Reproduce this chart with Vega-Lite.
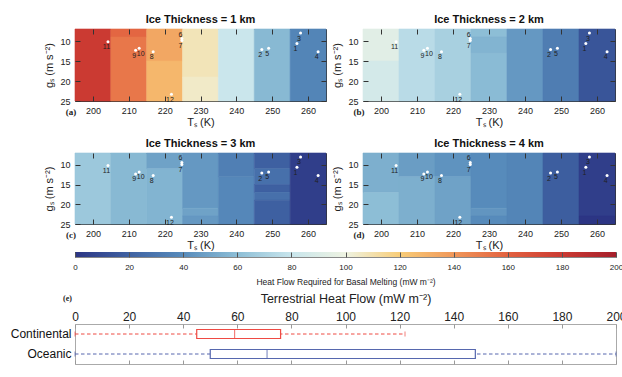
{
  "$schema": "https://vega.github.io/schema/vega-lite/v6.json",
  "padding": {"left": 9, "top": 13, "right": 0, "bottom": 0},
  "config": {
    "font": "Liberation Sans",
    "view": {"stroke": "#333", "strokeWidth": 1},
    "axis": {"grid": false, "domain": false, "labelFont": "Liberation Sans", "titleFont": "Liberation Sans", "labelColor": "#222", "titleColor": "#222", "titleFontWeight": "normal", "tickColor": "#333", "tickWidth": 1, "labelFontSize": 9, "titleFontSize": 11, "labelFlush": false, "labelOverlap": false},
    "title": {"font": "Liberation Sans", "fontSize": 11, "fontWeight": "bold", "color": "#111", "offset": 4},
    "text": {"font": "Liberation Sans"}
  },
  "datasets": {
    "cells": [
      {"p": 1, "T0": 195, "T1": 205, "g0": 7, "g1": 25, "v": 180},
      {"p": 1, "T0": 205, "T1": 215, "g0": 7, "g1": 9, "v": 158},
      {"p": 1, "T0": 205, "T1": 215, "g0": 9, "g1": 25, "v": 152},
      {"p": 1, "T0": 215, "T1": 225, "g0": 7, "g1": 15, "v": 134},
      {"p": 1, "T0": 215, "T1": 225, "g0": 15, "g1": 25, "v": 128},
      {"p": 1, "T0": 225, "T1": 235, "g0": 7, "g1": 19, "v": 108},
      {"p": 1, "T0": 225, "T1": 235, "g0": 19, "g1": 25, "v": 105},
      {"p": 1, "T0": 235, "T1": 245, "g0": 7, "g1": 25, "v": 81},
      {"p": 1, "T0": 245, "T1": 255, "g0": 7, "g1": 25, "v": 58},
      {"p": 1, "T0": 255, "T1": 265, "g0": 7, "g1": 25, "v": 37},
      {"p": 2, "T0": 195, "T1": 205, "g0": 7, "g1": 15, "v": 93},
      {"p": 2, "T0": 195, "T1": 205, "g0": 15, "g1": 25, "v": 86},
      {"p": 2, "T0": 205, "T1": 215, "g0": 7, "g1": 25, "v": 75},
      {"p": 2, "T0": 215, "T1": 225, "g0": 7, "g1": 25, "v": 69},
      {"p": 2, "T0": 225, "T1": 235, "g0": 7, "g1": 9, "v": 60},
      {"p": 2, "T0": 225, "T1": 235, "g0": 9, "g1": 13, "v": 56},
      {"p": 2, "T0": 225, "T1": 235, "g0": 13, "g1": 25, "v": 59},
      {"p": 2, "T0": 235, "T1": 245, "g0": 7, "g1": 25, "v": 45},
      {"p": 2, "T0": 245, "T1": 255, "g0": 7, "g1": 25, "v": 33},
      {"p": 2, "T0": 255, "T1": 265, "g0": 7, "g1": 25, "v": 14},
      {"p": 3, "T0": 195, "T1": 205, "g0": 7, "g1": 25, "v": 65},
      {"p": 3, "T0": 205, "T1": 215, "g0": 7, "g1": 25, "v": 58},
      {"p": 3, "T0": 215, "T1": 225, "g0": 7, "g1": 11, "v": 49},
      {"p": 3, "T0": 215, "T1": 225, "g0": 11, "g1": 25, "v": 56},
      {"p": 3, "T0": 225, "T1": 235, "g0": 7, "g1": 21, "v": 45},
      {"p": 3, "T0": 225, "T1": 235, "g0": 21, "g1": 23, "v": 49},
      {"p": 3, "T0": 225, "T1": 235, "g0": 23, "g1": 25, "v": 45},
      {"p": 3, "T0": 235, "T1": 245, "g0": 7, "g1": 13, "v": 34},
      {"p": 3, "T0": 235, "T1": 245, "g0": 13, "g1": 25, "v": 38},
      {"p": 3, "T0": 245, "T1": 255, "g0": 7, "g1": 11, "v": 19},
      {"p": 3, "T0": 245, "T1": 255, "g0": 11, "g1": 15, "v": 27},
      {"p": 3, "T0": 245, "T1": 255, "g0": 15, "g1": 17, "v": 19},
      {"p": 3, "T0": 245, "T1": 255, "g0": 17, "g1": 19, "v": 27},
      {"p": 3, "T0": 245, "T1": 255, "g0": 19, "g1": 25, "v": 19},
      {"p": 3, "T0": 255, "T1": 265, "g0": 7, "g1": 25, "v": 4},
      {"p": 4, "T0": 195, "T1": 205, "g0": 7, "g1": 17, "v": 54},
      {"p": 4, "T0": 195, "T1": 205, "g0": 17, "g1": 25, "v": 60},
      {"p": 4, "T0": 205, "T1": 215, "g0": 7, "g1": 13, "v": 47},
      {"p": 4, "T0": 205, "T1": 215, "g0": 13, "g1": 25, "v": 54},
      {"p": 4, "T0": 215, "T1": 225, "g0": 7, "g1": 13, "v": 43},
      {"p": 4, "T0": 215, "T1": 225, "g0": 13, "g1": 25, "v": 49},
      {"p": 4, "T0": 225, "T1": 235, "g0": 7, "g1": 21, "v": 40},
      {"p": 4, "T0": 225, "T1": 235, "g0": 21, "g1": 23, "v": 44},
      {"p": 4, "T0": 225, "T1": 235, "g0": 23, "g1": 25, "v": 40},
      {"p": 4, "T0": 235, "T1": 245, "g0": 7, "g1": 25, "v": 37},
      {"p": 4, "T0": 245, "T1": 255, "g0": 7, "g1": 25, "v": 18},
      {"p": 4, "T0": 255, "T1": 265, "g0": 7, "g1": 23, "v": 4},
      {"p": 4, "T0": 255, "T1": 265, "g0": 23, "g1": 25, "v": 0}
    ],
    "pts": [
      {"id": "1", "T": 256.9, "g": 10.6},
      {"id": "2", "T": 247.1, "g": 12.1},
      {"id": "3", "T": 257.9, "g": 8.0},
      {"id": "4", "T": 262.8, "g": 12.7},
      {"id": "5", "T": 249.0, "g": 11.8},
      {"id": "6", "T": 224.8, "g": 9.4},
      {"id": "7", "T": 224.8, "g": 9.9},
      {"id": "8", "T": 216.8, "g": 12.7},
      {"id": "9", "T": 211.9, "g": 12.3},
      {"id": "10", "T": 212.9, "g": 11.8},
      {"id": "11", "T": 204.2, "g": 10.2},
      {"id": "12", "T": 221.9, "g": 23.3}
    ],
    "box": [
      {"type": "Continental", "min": 0, "q1": 45, "median": 59, "q3": 76, "max": 122},
      {"type": "Oceanic", "min": 0, "q1": 50, "median": 71, "q3": 148, "max": 200}
    ]
  },
  "spacing": 0,
  "vconcat": [
    {
      "columns": 2,
      "spacing": {"row": 52, "column": 37},
      "bounds": "flush",
      "concat": [
        {
          "width": 251, "height": 72,
          "title": {"text": "Ice Thickness = 1 km"},
          "layer": [
            {"data": {"name": "cells"}, "transform": [{"filter": "datum.p == 1"}], "mark": {"type": "rect", "strokeWidth": 0.6},
             "encoding": {
               "x": {"field": "T0", "type": "quantitative", "scale": {"domain": [195, 265], "nice": false, "zero": false}, "axis": {"orient": "bottom", "values": [200, 210, 220, 230, 240, 250, 260], "title": "Tₛ (K)", "tickSize": -5, "labelPadding": 10, "titlePadding": 1, "zindex": 1}},
               "x2": {"field": "T1"},
               "y": {"field": "g0", "type": "quantitative", "scale": {"domain": [7, 25], "reverse": true, "nice": false, "zero": false}, "axis": {"orient": "left", "values": [10, 15, 20, 25], "title": "gₛ (m s⁻²)", "tickSize": -5, "labelPadding": 10, "titlePadding": 5, "zindex": 1}},
               "y2": {"field": "g1"},
               "color": {"field": "v", "type": "quantitative", "scale": {"domain": [0, 20, 40, 60, 80, 100, 120, 140, 160, 180, 200], "range": ["#2c3584", "#3f62a2", "#578bbb", "#8dbed6", "#c8e5ec", "#eef3e2", "#f8cd78", "#f0975a", "#e2613f", "#cb3a32", "#a51f2b"], "interpolate": "rgb"}, "legend": null},
               "stroke": {"field": "v", "type": "quantitative", "scale": {"domain": [0, 20, 40, 60, 80, 100, 120, 140, 160, 180, 200], "range": ["#2c3584", "#3f62a2", "#578bbb", "#8dbed6", "#c8e5ec", "#eef3e2", "#f8cd78", "#f0975a", "#e2613f", "#cb3a32", "#a51f2b"], "interpolate": "rgb"}, "legend": null}
             }},
            {"data": {"name": "pts"}, "mark": {"type": "circle", "size": 9, "opacity": 1, "color": "white"},
             "encoding": {
               "x": {"field": "T", "type": "quantitative", "axis": {"orient": "top", "labels": false, "title": null, "tickSize": -5, "values": [200, 210, 220, 230, 240, 250, 260], "zindex": 1}},
               "y": {"field": "g", "type": "quantitative", "axis": {"orient": "right", "labels": false, "title": null, "tickSize": -5, "values": [10, 15, 20, 25], "zindex": 1}}
             }},
            {"data": {"name": "pts"}, "transform": [{"filter": "datum.id != '6' && datum.id != '10'"}], "mark": {"type": "text", "fontSize": 7, "dx": -1.5, "dy": 5.5, "color": "#222"},
             "encoding": {"x": {"field": "T", "type": "quantitative", "axis": null}, "y": {"field": "g", "type": "quantitative", "axis": null}, "text": {"field": "id"}}},
            {"data": {"name": "pts"}, "transform": [{"filter": "datum.id == '10'"}], "mark": {"type": "text", "fontSize": 7, "dx": 1.5, "dy": 5.5, "color": "#222"},
             "encoding": {"x": {"field": "T", "type": "quantitative", "axis": null}, "y": {"field": "g", "type": "quantitative", "axis": null}, "text": {"field": "id"}}},
            {"data": {"name": "pts"}, "transform": [{"filter": "datum.id == '6'"}], "mark": {"type": "text", "fontSize": 7, "dx": -1.5, "dy": -4, "color": "#222"},
             "encoding": {"x": {"field": "T", "type": "quantitative", "axis": null}, "y": {"field": "g", "type": "quantitative", "axis": null}, "text": {"field": "id"}}},
            {"data": {"values": [{"tag": "(a)"}]}, "mark": {"type": "text", "font": "Liberation Serif", "fontWeight": "bold", "fontSize": 9, "dx": -4, "dy": 11, "color": "#222"},
             "encoding": {"x": {"datum": 195, "type": "quantitative", "axis": null}, "y": {"datum": 25, "type": "quantitative", "axis": null}, "text": {"field": "tag"}}}
          ],
          "resolve": {"axis": {"x": "independent", "y": "independent"}}
        },
        {
          "width": 252, "height": 72,
          "title": {"text": "Ice Thickness = 2 km"},
          "layer": [
            {"data": {"name": "cells"}, "transform": [{"filter": "datum.p == 2"}], "mark": {"type": "rect", "strokeWidth": 0.6},
             "encoding": {
               "x": {"field": "T0", "type": "quantitative", "scale": {"domain": [195, 265], "nice": false, "zero": false}, "axis": {"orient": "bottom", "values": [200, 210, 220, 230, 240, 250, 260], "title": "Tₛ (K)", "tickSize": -5, "labelPadding": 10, "titlePadding": 1, "zindex": 1}},
               "x2": {"field": "T1"},
               "y": {"field": "g0", "type": "quantitative", "scale": {"domain": [7, 25], "reverse": true, "nice": false, "zero": false}, "axis": {"orient": "left", "values": [10, 15, 20, 25], "title": "gₛ (m s⁻²)", "tickSize": -5, "labelPadding": 10, "titlePadding": 5, "zindex": 1}},
               "y2": {"field": "g1"},
               "color": {"field": "v", "type": "quantitative", "scale": {"domain": [0, 20, 40, 60, 80, 100, 120, 140, 160, 180, 200], "range": ["#2c3584", "#3f62a2", "#578bbb", "#8dbed6", "#c8e5ec", "#eef3e2", "#f8cd78", "#f0975a", "#e2613f", "#cb3a32", "#a51f2b"], "interpolate": "rgb"}, "legend": null},
               "stroke": {"field": "v", "type": "quantitative", "scale": {"domain": [0, 20, 40, 60, 80, 100, 120, 140, 160, 180, 200], "range": ["#2c3584", "#3f62a2", "#578bbb", "#8dbed6", "#c8e5ec", "#eef3e2", "#f8cd78", "#f0975a", "#e2613f", "#cb3a32", "#a51f2b"], "interpolate": "rgb"}, "legend": null}
             }},
            {"data": {"name": "pts"}, "mark": {"type": "circle", "size": 9, "opacity": 1, "color": "white"},
             "encoding": {
               "x": {"field": "T", "type": "quantitative", "axis": {"orient": "top", "labels": false, "title": null, "tickSize": -5, "values": [200, 210, 220, 230, 240, 250, 260], "zindex": 1}},
               "y": {"field": "g", "type": "quantitative", "axis": {"orient": "right", "labels": false, "title": null, "tickSize": -5, "values": [10, 15, 20, 25], "zindex": 1}}
             }},
            {"data": {"name": "pts"}, "transform": [{"filter": "datum.id != '6' && datum.id != '10'"}], "mark": {"type": "text", "fontSize": 7, "dx": -1.5, "dy": 5.5, "color": "#222"},
             "encoding": {"x": {"field": "T", "type": "quantitative", "axis": null}, "y": {"field": "g", "type": "quantitative", "axis": null}, "text": {"field": "id"}}},
            {"data": {"name": "pts"}, "transform": [{"filter": "datum.id == '10'"}], "mark": {"type": "text", "fontSize": 7, "dx": 1.5, "dy": 5.5, "color": "#222"},
             "encoding": {"x": {"field": "T", "type": "quantitative", "axis": null}, "y": {"field": "g", "type": "quantitative", "axis": null}, "text": {"field": "id"}}},
            {"data": {"name": "pts"}, "transform": [{"filter": "datum.id == '6'"}], "mark": {"type": "text", "fontSize": 7, "dx": -1.5, "dy": -4, "color": "#222"},
             "encoding": {"x": {"field": "T", "type": "quantitative", "axis": null}, "y": {"field": "g", "type": "quantitative", "axis": null}, "text": {"field": "id"}}},
            {"data": {"values": [{"tag": "(b)"}]}, "mark": {"type": "text", "font": "Liberation Serif", "fontWeight": "bold", "fontSize": 9, "dx": -4, "dy": 11, "color": "#222"},
             "encoding": {"x": {"datum": 195, "type": "quantitative", "axis": null}, "y": {"datum": 25, "type": "quantitative", "axis": null}, "text": {"field": "tag"}}}
          ],
          "resolve": {"axis": {"x": "independent", "y": "independent"}}
        },
        {
          "width": 251, "height": 71,
          "title": {"text": "Ice Thickness = 3 km"},
          "layer": [
            {"data": {"name": "cells"}, "transform": [{"filter": "datum.p == 3"}], "mark": {"type": "rect", "strokeWidth": 0.6},
             "encoding": {
               "x": {"field": "T0", "type": "quantitative", "scale": {"domain": [195, 265], "nice": false, "zero": false}, "axis": {"orient": "bottom", "values": [200, 210, 220, 230, 240, 250, 260], "title": "Tₛ (K)", "tickSize": -5, "labelPadding": 10, "titlePadding": 1, "zindex": 1}},
               "x2": {"field": "T1"},
               "y": {"field": "g0", "type": "quantitative", "scale": {"domain": [7, 25], "reverse": true, "nice": false, "zero": false}, "axis": {"orient": "left", "values": [10, 15, 20, 25], "title": "gₛ (m s⁻²)", "tickSize": -5, "labelPadding": 10, "titlePadding": 5, "zindex": 1}},
               "y2": {"field": "g1"},
               "color": {"field": "v", "type": "quantitative", "scale": {"domain": [0, 20, 40, 60, 80, 100, 120, 140, 160, 180, 200], "range": ["#2c3584", "#3f62a2", "#578bbb", "#8dbed6", "#c8e5ec", "#eef3e2", "#f8cd78", "#f0975a", "#e2613f", "#cb3a32", "#a51f2b"], "interpolate": "rgb"}, "legend": null},
               "stroke": {"field": "v", "type": "quantitative", "scale": {"domain": [0, 20, 40, 60, 80, 100, 120, 140, 160, 180, 200], "range": ["#2c3584", "#3f62a2", "#578bbb", "#8dbed6", "#c8e5ec", "#eef3e2", "#f8cd78", "#f0975a", "#e2613f", "#cb3a32", "#a51f2b"], "interpolate": "rgb"}, "legend": null}
             }},
            {"data": {"name": "pts"}, "mark": {"type": "circle", "size": 9, "opacity": 1, "color": "white"},
             "encoding": {
               "x": {"field": "T", "type": "quantitative", "axis": {"orient": "top", "labels": false, "title": null, "tickSize": -5, "values": [200, 210, 220, 230, 240, 250, 260], "zindex": 1}},
               "y": {"field": "g", "type": "quantitative", "axis": {"orient": "right", "labels": false, "title": null, "tickSize": -5, "values": [10, 15, 20, 25], "zindex": 1}}
             }},
            {"data": {"name": "pts"}, "transform": [{"filter": "datum.id != '6' && datum.id != '10'"}], "mark": {"type": "text", "fontSize": 7, "dx": -1.5, "dy": 5.5, "color": "#222"},
             "encoding": {"x": {"field": "T", "type": "quantitative", "axis": null}, "y": {"field": "g", "type": "quantitative", "axis": null}, "text": {"field": "id"}}},
            {"data": {"name": "pts"}, "transform": [{"filter": "datum.id == '10'"}], "mark": {"type": "text", "fontSize": 7, "dx": 1.5, "dy": 5.5, "color": "#222"},
             "encoding": {"x": {"field": "T", "type": "quantitative", "axis": null}, "y": {"field": "g", "type": "quantitative", "axis": null}, "text": {"field": "id"}}},
            {"data": {"name": "pts"}, "transform": [{"filter": "datum.id == '6'"}], "mark": {"type": "text", "fontSize": 7, "dx": -1.5, "dy": -4, "color": "#222"},
             "encoding": {"x": {"field": "T", "type": "quantitative", "axis": null}, "y": {"field": "g", "type": "quantitative", "axis": null}, "text": {"field": "id"}}},
            {"data": {"values": [{"tag": "(c)"}]}, "mark": {"type": "text", "font": "Liberation Serif", "fontWeight": "bold", "fontSize": 9, "dx": -4, "dy": 11, "color": "#222"},
             "encoding": {"x": {"datum": 195, "type": "quantitative", "axis": null}, "y": {"datum": 25, "type": "quantitative", "axis": null}, "text": {"field": "tag"}}}
          ],
          "resolve": {"axis": {"x": "independent", "y": "independent"}}
        },
        {
          "width": 252, "height": 71,
          "title": {"text": "Ice Thickness = 4 km"},
          "layer": [
            {"data": {"name": "cells"}, "transform": [{"filter": "datum.p == 4"}], "mark": {"type": "rect", "strokeWidth": 0.6},
             "encoding": {
               "x": {"field": "T0", "type": "quantitative", "scale": {"domain": [195, 265], "nice": false, "zero": false}, "axis": {"orient": "bottom", "values": [200, 210, 220, 230, 240, 250, 260], "title": "Tₛ (K)", "tickSize": -5, "labelPadding": 10, "titlePadding": 1, "zindex": 1}},
               "x2": {"field": "T1"},
               "y": {"field": "g0", "type": "quantitative", "scale": {"domain": [7, 25], "reverse": true, "nice": false, "zero": false}, "axis": {"orient": "left", "values": [10, 15, 20, 25], "title": "gₛ (m s⁻²)", "tickSize": -5, "labelPadding": 10, "titlePadding": 5, "zindex": 1}},
               "y2": {"field": "g1"},
               "color": {"field": "v", "type": "quantitative", "scale": {"domain": [0, 20, 40, 60, 80, 100, 120, 140, 160, 180, 200], "range": ["#2c3584", "#3f62a2", "#578bbb", "#8dbed6", "#c8e5ec", "#eef3e2", "#f8cd78", "#f0975a", "#e2613f", "#cb3a32", "#a51f2b"], "interpolate": "rgb"}, "legend": null},
               "stroke": {"field": "v", "type": "quantitative", "scale": {"domain": [0, 20, 40, 60, 80, 100, 120, 140, 160, 180, 200], "range": ["#2c3584", "#3f62a2", "#578bbb", "#8dbed6", "#c8e5ec", "#eef3e2", "#f8cd78", "#f0975a", "#e2613f", "#cb3a32", "#a51f2b"], "interpolate": "rgb"}, "legend": null}
             }},
            {"data": {"name": "pts"}, "mark": {"type": "circle", "size": 9, "opacity": 1, "color": "white"},
             "encoding": {
               "x": {"field": "T", "type": "quantitative", "axis": {"orient": "top", "labels": false, "title": null, "tickSize": -5, "values": [200, 210, 220, 230, 240, 250, 260], "zindex": 1}},
               "y": {"field": "g", "type": "quantitative", "axis": {"orient": "right", "labels": false, "title": null, "tickSize": -5, "values": [10, 15, 20, 25], "zindex": 1}}
             }},
            {"data": {"name": "pts"}, "transform": [{"filter": "datum.id != '6' && datum.id != '10'"}], "mark": {"type": "text", "fontSize": 7, "dx": -1.5, "dy": 5.5, "color": "#222"},
             "encoding": {"x": {"field": "T", "type": "quantitative", "axis": null}, "y": {"field": "g", "type": "quantitative", "axis": null}, "text": {"field": "id"}}},
            {"data": {"name": "pts"}, "transform": [{"filter": "datum.id == '10'"}], "mark": {"type": "text", "fontSize": 7, "dx": 1.5, "dy": 5.5, "color": "#222"},
             "encoding": {"x": {"field": "T", "type": "quantitative", "axis": null}, "y": {"field": "g", "type": "quantitative", "axis": null}, "text": {"field": "id"}}},
            {"data": {"name": "pts"}, "transform": [{"filter": "datum.id == '6'"}], "mark": {"type": "text", "fontSize": 7, "dx": -1.5, "dy": -4, "color": "#222"},
             "encoding": {"x": {"field": "T", "type": "quantitative", "axis": null}, "y": {"field": "g", "type": "quantitative", "axis": null}, "text": {"field": "id"}}},
            {"data": {"values": [{"tag": "(d)"}]}, "mark": {"type": "text", "font": "Liberation Serif", "fontWeight": "bold", "fontSize": 9, "dx": -4, "dy": 11, "color": "#222"},
             "encoding": {"x": {"datum": 195, "type": "quantitative", "axis": null}, "y": {"datum": 25, "type": "quantitative", "axis": null}, "text": {"field": "tag"}}}
          ],
          "resolve": {"axis": {"x": "independent", "y": "independent"}}
        }
      ]
    },
    {
      "spacing": 67,
      "bounds": "flush",
      "vconcat": [
        {
          "width": 541, "height": 5,
          "view": {"stroke": "#888"},
          "data": {"values": [{"lo": 0, "hi": 200}]},
          "mark": {"type": "rect", "fill": {"gradient": "linear", "x1": 0, "y1": 0, "x2": 1, "y2": 0, "stops": [
            {"offset": 0, "color": "#2c3584"}, {"offset": 0.1, "color": "#3f62a2"}, {"offset": 0.2, "color": "#578bbb"}, {"offset": 0.3, "color": "#8dbed6"}, {"offset": 0.4, "color": "#c8e5ec"}, {"offset": 0.5, "color": "#eef3e2"}, {"offset": 0.6, "color": "#f8cd78"}, {"offset": 0.7, "color": "#f0975a"}, {"offset": 0.8, "color": "#e2613f"}, {"offset": 0.9, "color": "#cb3a32"}, {"offset": 1, "color": "#a51f2b"}]}},
          "encoding": {
            "x": {"field": "lo", "type": "quantitative", "scale": {"domain": [0, 200], "nice": false, "zero": false}, "axis": {"values": [0, 20, 40, 60, 80, 100, 120, 140, 160, 180, 200], "tickSize": -5, "tickColor": "#555", "labelFontSize": 8, "labelPadding": 11, "title": "Heat Flow Required for Basal Melting (mW m⁻²)", "titleFontSize": 8.5, "titlePadding": 6, "zindex": 1}},
            "x2": {"field": "hi"}
          }
        },
        {
          "width": 541, "height": 40,
          "view": {"stroke": "#aaa"},
          "title": {"text": "(e)", "anchor": "start", "frame": "group", "dx": -12, "dy": 10, "font": "Liberation Serif", "fontSize": 8, "fontWeight": "bold", "color": "#222", "offset": 0},
          "data": {"name": "box"},
          "encoding": {
            "y": {"field": "type", "type": "nominal", "sort": null, "scale": {"domain": ["Continental", "Oceanic"], "paddingInner": 0, "paddingOuter": 0}, "axis": {"title": null, "ticks": false, "labelFontSize": 12, "labelPadding": 4, "labelColor": "#111"}}
          },
          "layer": [
            {"mark": {"type": "rule", "strokeDash": [3.5, 2.5], "strokeWidth": 1},
             "encoding": {
               "x": {"field": "min", "type": "quantitative", "scale": {"domain": [0, 200], "nice": false, "zero": false}, "axis": {"orient": "top", "values": [0, 20, 40, 60, 80, 100, 120, 140, 160, 180, 200], "tickSize": -4, "tickColor": "#999", "labelFontSize": 12, "labelPadding": 4.5, "title": "Terrestrial Heat Flow (mW m⁻²)", "titleFontSize": 12.5, "titlePadding": 5, "zindex": 1}},
               "x2": {"field": "max"},
               "color": {"field": "type", "type": "nominal", "scale": {"domain": ["Continental", "Oceanic"], "range": ["#ee4a43", "#5667ae"]}, "legend": null}
             }},
            {"mark": {"type": "bar", "fill": "white", "strokeWidth": 1.2, "size": 9},
             "encoding": {
               "x": {"field": "q1", "type": "quantitative", "axis": {"orient": "bottom", "labels": false, "title": null, "tickSize": -4, "tickColor": "#999", "values": [0, 20, 40, 60, 80, 100, 120, 140, 160, 180, 200], "zindex": 1}},
               "x2": {"field": "q3"},
               "stroke": {"field": "type", "type": "nominal", "scale": {"domain": ["Continental", "Oceanic"], "range": ["#ee4a43", "#5667ae"]}, "legend": null}
             }},
            {"mark": {"type": "tick", "thickness": 1.2, "size": 9},
             "encoding": {
               "x": {"field": "median", "type": "quantitative", "axis": null},
               "color": {"field": "type", "type": "nominal", "scale": {"domain": ["Continental", "Oceanic"], "range": ["#ee4a43", "#5667ae"]}, "legend": null}
             }},
            {"mark": {"type": "tick", "thickness": 1, "size": 5},
             "encoding": {
               "x": {"field": "max", "type": "quantitative", "axis": null},
               "color": {"field": "type", "type": "nominal", "scale": {"domain": ["Continental", "Oceanic"], "range": ["#ee4a43", "#5667ae"]}, "legend": null}
             }},
            {"mark": {"type": "tick", "thickness": 1, "size": 5},
             "encoding": {
               "x": {"field": "min", "type": "quantitative", "axis": null},
               "color": {"field": "type", "type": "nominal", "scale": {"domain": ["Continental", "Oceanic"], "range": ["#ee4a43", "#5667ae"]}, "legend": null}
             }}
          ],
          "resolve": {"axis": {"x": "independent"}}
        }
      ]
    }
  ]
}
